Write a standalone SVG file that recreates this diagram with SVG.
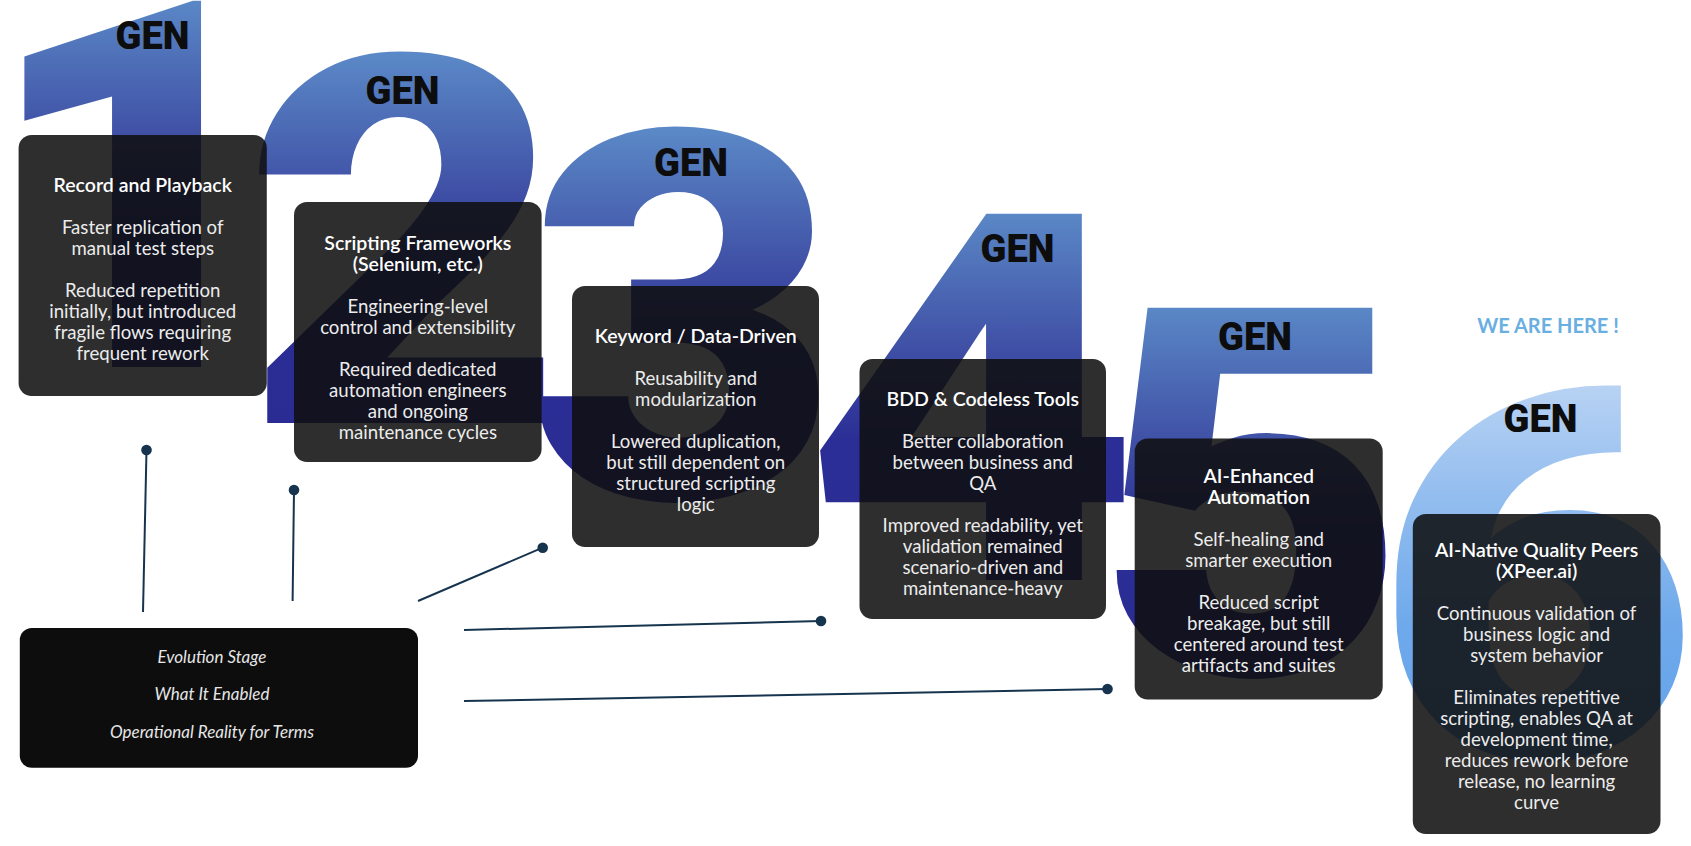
<svg xmlns="http://www.w3.org/2000/svg" width="1691" height="846" viewBox="0 0 1691 846">
<defs>
<linearGradient id="gBlue" gradientUnits="userSpaceOnUse" x1="0" y1="-370" x2="0" y2="0">
<stop offset="0" stop-color="#5b89c7"/>
<stop offset="0.38" stop-color="#3f4fa5"/>
<stop offset="0.62" stop-color="#2b2e96"/>
<stop offset="1" stop-color="#2a2c93"/>
</linearGradient>
<linearGradient id="gLight" gradientUnits="userSpaceOnUse" x1="0" y1="-370" x2="0" y2="0">
<stop offset="0" stop-color="#b7d2f3"/>
<stop offset="0.3" stop-color="#93bdef"/>
<stop offset="0.65" stop-color="#6ea9eb"/>
<stop offset="1" stop-color="#64a2e9"/>
</linearGradient>
<style>
.num{font-family:Roboto,"Liberation Sans",sans-serif;font-weight:900;font-size:515px;text-anchor:middle}
.gen{font-family:Roboto,"Liberation Sans",sans-serif;font-weight:900;font-size:38px;fill:#0d0d0d;text-anchor:middle}
.card{fill:#0f0f0f;fill-opacity:0.87}
.ttl{font-family:Lato,"Noto Sans",sans-serif;font-weight:600;font-size:19.5px;fill:#ffffff;text-anchor:middle}
.bdy{font-family:Lato,"Noto Sans",sans-serif;font-weight:400;font-size:18.6px;fill:#ececec;text-anchor:middle}
.leg{font-family:Lato,"Noto Sans",sans-serif;font-style:italic;font-weight:400;font-size:17px;fill:#e6e6e6;text-anchor:middle}
.con{stroke:#17344f;stroke-width:2;fill:none}
.dot{fill:#17344f}
</style>
</defs>
<rect width="1691" height="846" fill="#ffffff"/>

<g id="numerals">
<text class="num" transform="translate(137,367) scale(1.05,1)" fill="url(#gBlue)">1</text>
<text class="num" transform="translate(404,423) scale(1.08,1)" fill="url(#gBlue)">2</text>
<text class="num" transform="translate(683,498) scale(1.05,1)" fill="url(#gBlue)">3</text>
<text class="num" transform="translate(972,580) scale(1.13,1)" fill="url(#gBlue)">4</text>
<text class="num" transform="translate(1252,674) scale(1.05,1)" fill="url(#gBlue)">5</text>
<text class="num" transform="translate(1536,757) scale(1.09,1)" fill="url(#gLight)">6</text>
</g>

<g id="gen-labels">
<text class="gen" x="152.5" y="49">GEN</text>
<text class="gen" x="402.5" y="104">GEN</text>
<text class="gen" x="691" y="176">GEN</text>
<text class="gen" x="1017.5" y="262">GEN</text>
<text class="gen" x="1255" y="350">GEN</text>
<text class="gen" x="1540.5" y="432">GEN</text>
</g>

<text x="1548" y="333" font-family="Lato,'Noto Sans',sans-serif" font-weight="700" font-size="20" fill="#6aafe2" text-anchor="middle">WE ARE HERE !</text>

<g id="connectors">
<line class="con" x1="146.5" y1="450" x2="143" y2="612"/>
<circle class="dot" cx="146.5" cy="450" r="5.3"/>
<line class="con" x1="294" y1="490" x2="292.6" y2="601"/>
<circle class="dot" cx="294" cy="490" r="5.3"/>
<line class="con" x1="418" y1="601" x2="542.7" y2="547.7"/>
<circle class="dot" cx="542.7" cy="547.7" r="5.3"/>
<line class="con" x1="464" y1="630" x2="821" y2="621"/>
<circle class="dot" cx="821" cy="621" r="5.3"/>
<line class="con" x1="464" y1="701" x2="1107.5" y2="689"/>
<circle class="dot" cx="1107.5" cy="689" r="5.3"/>
</g>

<g id="gen1">
<rect class="card" x="18.6" y="135" width="248.2" height="261" rx="13"/>
<text class="ttl" x="142.7" y="191.5">Record and Playback</text>
<text class="bdy" x="142.7" y="233.5">Faster replication of</text>
<text class="bdy" x="142.7" y="254.5">manual test steps</text>
<text class="bdy" x="142.7" y="296.5">Reduced repetition</text>
<text class="bdy" x="142.7" y="317.5">initially, but introduced</text>
<text class="bdy" x="142.7" y="338.5">fragile flows requiring</text>
<text class="bdy" x="142.7" y="359.5">frequent rework</text>
</g>

<g id="gen2">
<rect class="card" x="294" y="202" width="247.6" height="260" rx="13"/>
<text class="ttl" x="417.8" y="249.5">Scripting Frameworks</text>
<text class="ttl" x="417.8" y="270.5">(Selenium, etc.)</text>
<text class="bdy" x="417.8" y="312.5">Engineering-level</text>
<text class="bdy" x="417.8" y="333.5">control and extensibility</text>
<text class="bdy" x="417.8" y="375.5">Required dedicated</text>
<text class="bdy" x="417.8" y="396.5">automation engineers</text>
<text class="bdy" x="417.8" y="417.5">and ongoing</text>
<text class="bdy" x="417.8" y="438.5">maintenance cycles</text>
</g>

<g id="gen3">
<rect class="card" x="572" y="286" width="247" height="261" rx="13"/>
<text class="ttl" x="695.8" y="342.5">Keyword / Data-Driven</text>
<text class="bdy" x="695.8" y="384.5">Reusability and</text>
<text class="bdy" x="695.8" y="405.5">modularization</text>
<text class="bdy" x="695.8" y="447.5">Lowered duplication,</text>
<text class="bdy" x="695.8" y="468.5">but still dependent on</text>
<text class="bdy" x="695.8" y="489.5">structured scripting</text>
<text class="bdy" x="695.8" y="510.5">logic</text>
</g>

<g id="gen4">
<rect class="card" x="859.5" y="359" width="246.5" height="260" rx="13"/>
<text class="ttl" x="982.8" y="405.5">BDD &amp; Codeless Tools</text>
<text class="bdy" x="982.8" y="447.5">Better collaboration</text>
<text class="bdy" x="982.8" y="468.5">between business and</text>
<text class="bdy" x="982.8" y="489.5">QA</text>
<text class="bdy" x="982.8" y="531.5">Improved readability, yet</text>
<text class="bdy" x="982.8" y="552.5">validation remained</text>
<text class="bdy" x="982.8" y="573.5">scenario-driven and</text>
<text class="bdy" x="982.8" y="594.5">maintenance-heavy</text>
</g>

<g id="gen5">
<rect class="card" x="1134.7" y="438.5" width="248" height="261" rx="13"/>
<text class="ttl" x="1258.7" y="483">AI-Enhanced</text>
<text class="ttl" x="1258.7" y="504">Automation</text>
<text class="bdy" x="1258.7" y="546">Self-healing and</text>
<text class="bdy" x="1258.7" y="567">smarter execution</text>
<text class="bdy" x="1258.7" y="609">Reduced script</text>
<text class="bdy" x="1258.7" y="630">breakage, but still</text>
<text class="bdy" x="1258.7" y="651">centered around test</text>
<text class="bdy" x="1258.7" y="672">artifacts and suites</text>
</g>

<g id="gen6">
<rect class="card" x="1412.8" y="514" width="247.7" height="320" rx="13"/>
<text class="ttl" x="1536.6" y="557">AI-Native Quality Peers</text>
<text class="ttl" x="1536.6" y="578">(XPeer.ai)</text>
<text class="bdy" x="1536.6" y="620">Continuous validation of</text>
<text class="bdy" x="1536.6" y="641">business logic and</text>
<text class="bdy" x="1536.6" y="662">system behavior</text>
<text class="bdy" x="1536.6" y="704">Eliminates repetitive</text>
<text class="bdy" x="1536.6" y="725">scripting, enables QA at</text>
<text class="bdy" x="1536.6" y="746">development time,</text>
<text class="bdy" x="1536.6" y="767">reduces rework before</text>
<text class="bdy" x="1536.6" y="788">release, no learning</text>
<text class="bdy" x="1536.6" y="809">curve</text>
</g>

<g id="legend">
<rect x="19.8" y="628" width="398.2" height="139.7" rx="12" fill="#0d0d0d"/>
<text class="leg" x="212" y="663" font-weight="600">Evolution Stage</text>
<text class="leg" x="212" y="700">What It Enabled</text>
<text class="leg" x="212" y="738">Operational Reality for Terms</text>
</g>
</svg>
